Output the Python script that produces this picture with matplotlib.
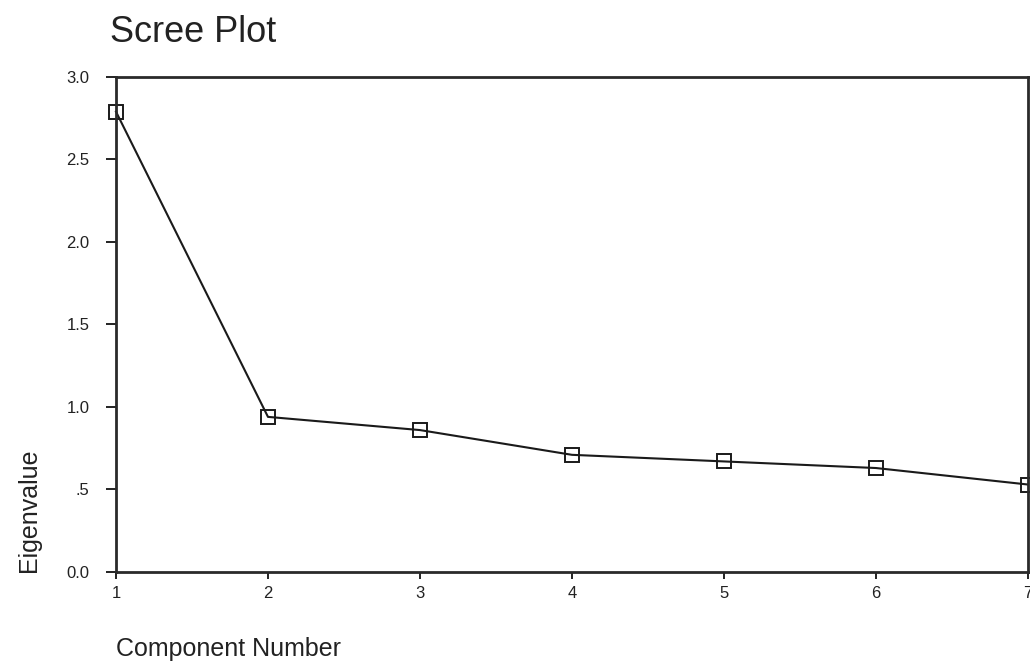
import numpy as np
import matplotlib.pyplot as plt

plt.rcParams['font.family'] = ['Liberation Sans', 'DejaVu Sans']

components = [1, 2, 3, 4, 5, 6, 7]
eigenvalues = [2.79, 0.94, 0.86, 0.71, 0.67, 0.63, 0.53]
ytick_vals = [0.0, 0.5, 1.0, 1.5, 2.0, 2.5, 3.0]
ytick_labels = ["0.0", ".5", "1.0", "1.5", "2.0", "2.5", "3.0"]


def main():
    fig = plt.figure(figsize=(10.3, 6.62), dpi=100)
    ax = fig.add_axes([0.1126, 0.136, 0.8854, 0.7477])

    ax.plot(components, eigenvalues, color='#1a1a1a', lw=1.5,
            marker='s', markersize=10, markerfacecolor='none',
            markeredgecolor='#1a1a1a', markeredgewidth=1.4, clip_on=False)

    ax.set_xlim(1, 7)
    ax.set_ylim(0, 3.0)
    ax.set_xticks(components)
    ax.set_yticks(ytick_vals)
    ax.set_yticklabels(ytick_labels)
    ax.tick_params(axis='both', direction='out', width=1.4,
                   labelsize=12, colors='#222222')
    ax.tick_params(axis='y', length=7, pad=12)
    ax.tick_params(axis='x', length=5, pad=5)

    for s in ax.spines.values():
        s.set_linewidth(2.0)
        s.set_color('#2a2a2a')

    ax.set_ylabel("Eigenvalue", fontsize=18, loc='bottom', labelpad=18,
                  color='#222222')
    ax.set_xlabel("Component Number", fontsize=18, loc='left', labelpad=26,
                  color='#222222')
    fig.text(0.107, 0.925, "Scree Plot", fontsize=26, color='#222222',
             ha='left', va='bottom')

    fig.savefig("out.png", dpi=100)


if __name__ == "__main__":
    main()
